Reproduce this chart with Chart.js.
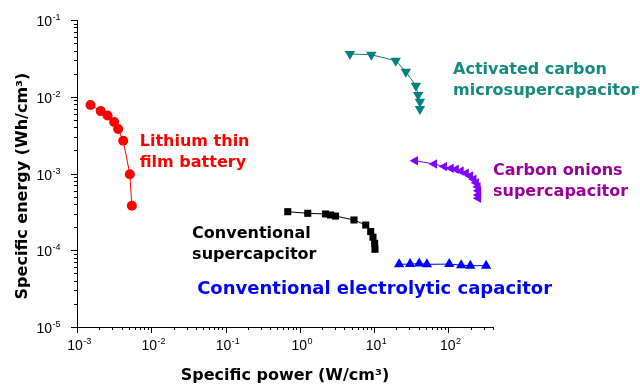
<!DOCTYPE html>
<html>
<head>
<meta charset="utf-8">
<script src="https://cdn.jsdelivr.net/npm/chart.js@4"></script>
<style>
  html, body { margin: 0; padding: 0; background: #fff; }
  #wrap { width: 640px; height: 385px; }
</style>
</head>
<body>
<div id="wrap"><canvas id="ragone"></canvas></div>
<script>
// values (power in W/cm3, energy in Wh/cm3)
const liPower  = [1.52e-3, 2.09e-3, 2.58e-3, 3.16e-3, 3.58e-3, 4.19e-3, 5.15e-3, 5.48e-3];
const liEnergy = [7.8e-3, 6.5e-3, 5.7e-3, 4.7e-3, 3.8e-3, 2.67e-3, 9.8e-4, 3.8e-4];

const acPower  = [4.74, 9.2, 19.6, 26.8, 36.6, 39.3, 41.5, 41.5];
const acEnergy = [0.0361, 0.0353, 0.0295, 0.0212, 0.0139, 0.0105, 8.6e-3, 6.9e-3];

const coPower  = [35.8, 64.7, 88.3, 108.7, 127, 148, 173, 198, 220, 237, 250, 254, 254, 254];
const coEnergy = [1.47e-3, 1.33e-3, 1.23e-3, 1.17e-3, 1.135e-3, 1.08e-3, 1.007e-3, 9.28e-4,
                  8.4e-4, 7.6e-4, 6.73e-4, 5.97e-4, 5.25e-4, 4.75e-4];

const scPower  = [0.689, 1.28, 2.22, 2.6, 3.03, 5.37, 7.73, 9.02, 9.68, 10.2, 10.3];
const scEnergy = [3.18e-4, 3.03e-4, 2.97e-4, 2.88e-4, 2.79e-4, 2.48e-4, 2.13e-4, 1.75e-4,
                  1.48e-4, 1.23e-4, 1.03e-4];

const ecPower  = [21.8, 30.6, 40.6, 51.5, 103, 149, 198, 323];
const ecEnergy = [6.56e-5, 6.6e-5, 6.7e-5, 6.56e-5, 6.6e-5, 6.4e-5, 6.3e-5, 6.3e-5];

const xExps = [-3, -2, -1, 0, 1, 2];
const yExps = [-1, -2, -3, -4, -5];
const xTitle = "Specific power (W/cm³)";
const yTitle = "Specific energy (Wh/cm³)";

function pts(xs, ys) {
    return xs.map((v, i) => ({ x: v, y: ys[i] }));
}

const TICKFONT = '"Liberation Sans", Arial, sans-serif';
const BOLDFONT = '"DejaVu Sans", Verdana, sans-serif';

// text notes next to each group, anchored in data coords (x, y of first baseline)
const notes = [
    { x: 7.0e-3, y: 2.28e-3, size: 16, color: '#ff0000', lines: ['Lithium thin', 'film battery'] },
    { x: 116, y: 0.0198, size: 16, color: '#168a80', lines: ['Activated carbon', 'microsupercapacitor'] },
    { x: 400, y: 9.55e-4, size: 16, color: '#990099', lines: ['Carbon onions', 'supercapacitor'] },
    { x: 0.0355, y: 1.44e-4, size: 16, color: '#000000', lines: ['Conventional', 'supercapcitor'] },
    { x: 0.0415, y: 2.69e-5, size: 18, color: '#0000ff', lines: ['Conventional electrolytic capacitor'] }
];

function drawPow(ctx, exp, px, py, align) {
    ctx.font = '14px ' + TICKFONT;
    const base = '10';
    const bw = ctx.measureText(base).width;
    ctx.font = '9px ' + TICKFONT;
    const ew = ctx.measureText(String(exp)).width;
    const total = bw + ew;
    let left = align === 'right' ? px - total : px - total / 2;
    ctx.textAlign = 'left';
    ctx.textBaseline = 'alphabetic';
    ctx.font = '14px ' + TICKFONT;
    ctx.fillText(base, left, py);
    ctx.font = '9px ' + TICKFONT;
    ctx.fillText(String(exp), left + bw + 0.5, py - 6);
}

const decorPlugin = {
    id: 'decor',
    afterDraw(chart) {
        const ctx = chart.ctx;
        const a = chart.chartArea;
        const x = chart.scales.x, y = chart.scales.y;
        ctx.save();
        ctx.strokeStyle = '#000';
        ctx.fillStyle = '#000';
        ctx.lineWidth = 1;

        // ticks, long on decades and short in between
        ctx.beginPath();
        xExps.forEach(e => {
            for (let k = 1; k <= 9; k++) {
                const v = k * Math.pow(10, e);
                if (v > x.max * 1.0001) break;
                const px = Math.round(x.getPixelForValue(v)) + 0.5;
                const len = k === 1 ? 6 : 3;
                ctx.moveTo(px, a.bottom);
                ctx.lineTo(px, a.bottom + len);
            }
        });
        yExps.forEach(e => {
            for (let k = 1; k <= 9; k++) {
                const v = k * Math.pow(10, e);
                if (v > y.max * 1.0001) break;
                const py = Math.round(y.getPixelForValue(v)) + 0.5;
                const len = k === 1 ? 6 : 3;
                ctx.moveTo(a.left, py);
                ctx.lineTo(a.left - len, py);
            }
        });
        ctx.stroke();

        // tick labels
        xExps.forEach(e => {
            drawPow(ctx, e, x.getPixelForValue(Math.pow(10, e)) + 2, a.bottom + 23, 'center');
        });
        yExps.forEach(e => {
            drawPow(ctx, e, a.left - 17, y.getPixelForValue(Math.pow(10, e)) + 6, 'right');
        });

        // axis titles
        ctx.font = 'bold 16px ' + BOLDFONT;
        ctx.textAlign = 'center';
        ctx.textBaseline = 'middle';
        ctx.fillText(xTitle, 285, 376);
        ctx.translate(23, 186);
        ctx.rotate(-Math.PI / 2);
        ctx.fillText(yTitle, 0, 0);
        ctx.setTransform(1, 0, 0, 1, 0, 0);

        // group notes
        ctx.textAlign = 'left';
        ctx.textBaseline = 'alphabetic';
        notes.forEach(n => {
            ctx.font = 'bold ' + n.size + 'px ' + BOLDFONT;
            ctx.fillStyle = n.color;
            const px = x.getPixelForValue(n.x);
            const py = y.getPixelForValue(n.y);
            n.lines.forEach((t, i) => ctx.fillText(t, px, py + i * 21));
        });
        ctx.restore();
    }
};

function series(label, xs, ys, color, style, radius, rotation) {
    return {
        label: label,
        data: pts(xs, ys),
        showLine: true,
        borderColor: color,
        backgroundColor: color,
        borderWidth: 1,
        pointStyle: style,
        pointRadius: radius,
        pointRotation: rotation || 0,
        pointBorderWidth: 0
    };
}

new Chart(document.getElementById('ragone'), {
    type: 'scatter',
    data: {
        datasets: [
            series('Lithium thin film battery', liPower, liEnergy, '#ff0000', 'circle', 5),
            series('Activated carbon microsupercapacitor', acPower, acEnergy, '#008080', 'triangle', 6, 180),
            series('Carbon onions supercapacitor', coPower, coEnergy, '#8000ff', 'triangle', 5.5, 270),
            series('Conventional supercapcitor', scPower, scEnergy, '#000000', 'rect', 5),
            series('Conventional electrolytic capacitor', ecPower, ecEnergy, '#0000ff', 'triangle', 6)
        ]
    },
    options: {
        responsive: true,
        maintainAspectRatio: false,
        animation: false,
        layout: { padding: { left: 77, right: 147, top: 20, bottom: 58 } },
        plugins: {
            legend: { display: false },
            tooltip: { enabled: false }
        },
        scales: {
            x: {
                type: 'logarithmic',
                min: 1e-3,
                max: 400,
                grid: { display: false },
                ticks: { display: false },
                border: { color: '#000', width: 1 },
                afterFit: s => { s.height = 0; }
            },
            y: {
                type: 'logarithmic',
                min: 1e-5,
                max: 1e-1,
                grid: { display: false },
                ticks: { display: false },
                border: { color: '#000', width: 1 },
                afterFit: s => { s.width = 0; }
            }
        }
    },
    plugins: [decorPlugin]
});
</script>
</body>
</html>
